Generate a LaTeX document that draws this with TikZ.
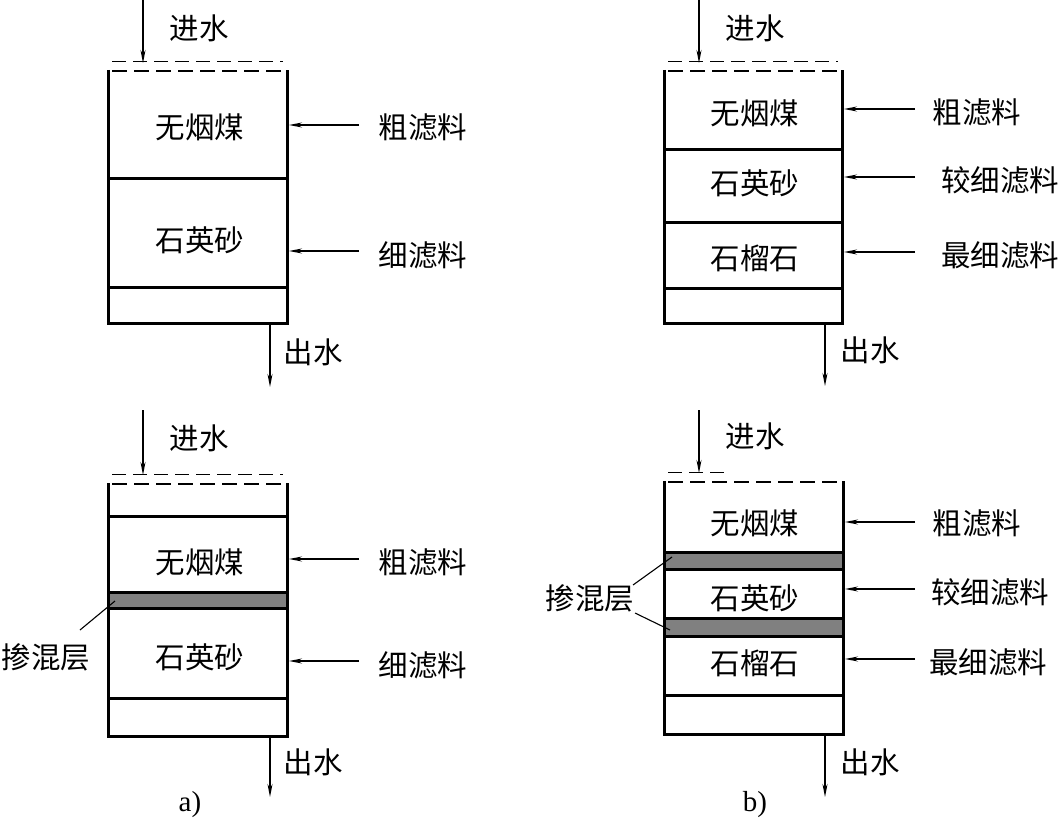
\documentclass[tikz,border=0pt]{standalone}
\usepackage{fontspec}
\setmainfont{Liberation Serif}
\newfontfamily\cjk{Noto Sans CJK SC}
\usetikzlibrary{arrows.meta}
\definecolor{bandgray}{RGB}{128,128,128}
\tikzset{
  wall/.style={line width=3pt},
  sep/.style={line width=3pt},
  arr/.style={line width=1.1pt,-{Stealth[length=13pt,width=5pt]}},
  lead/.style={line width=1.1pt},
  dthin/.style={line width=1pt,dash pattern=on 14pt off 7pt},
  dthick/.style={line width=1.8pt,dash pattern=on 15pt off 7pt},
  lbl/.style={font=\cjk\fontsize{29.5}{33}\selectfont,inner sep=0pt},
  figcap/.style={font=\fontsize{29}{33}\selectfont,inner sep=0pt},
  band/.style={fill=bandgray,draw=black,line width=3pt}
}
\begin{document}
\begin{tikzpicture}[x=1pt,y=-1pt]
\useasboundingbox (0,0) rectangle (1062,826);
\fill[white] (0,0) rectangle (1062,826);

% ===== Panel a top =====
\draw[dthin] (112,62) -- (283,62);
\draw[dthick] (112,71) -- (285,71);
\draw[wall] (108,70) -- (108,323) -- (287,323) -- (287,70);
\draw[sep] (108,179) -- (287,179);
\draw[sep] (108,287) -- (287,287);
\node[lbl] (aT1) at (200,127) {无烟煤};
\node[lbl] (aT2) at (200,240) {石英砂};
\node[lbl] (aL1) at (423,127) {粗滤料};
\node[lbl] (aL2) at (423,255) {细滤料};
\coordinate (aA1s) at (359,125); \coordinate (aA1t) at (289,125);
\coordinate (aA2s) at (359,251); \coordinate (aA2t) at (289,251);
\draw[arr] (aA1s) -- (aA1t);
\draw[arr] (aA2s) -- (aA2t);
\node[lbl] (aIn) at (199,28) {进水};
\coordinate (aIns) at (143,0); \coordinate (aInt) at (143,63);
\draw[arr] (aIns) -- (aInt);
\node[lbl] (aOut) at (313,352) {出水};
\coordinate (aOuts) at (270,324); \coordinate (aOutt) at (270,387);
\draw[arr] (aOuts) -- (aOutt);

% ===== Panel a bottom =====
\draw[dthin] (112,474) -- (283,474);
\draw[dthick] (112,484) -- (285,484);
\draw[wall] (108,483) -- (108,736) -- (287,736) -- (287,483);
\draw[sep] (108,516) -- (287,516);
\draw[band] (108,592) rectangle (287,608);
\draw[sep] (108,698) -- (287,698);
\node[lbl] (cT1) at (200,562) {无烟煤};
\node[lbl] (cT2) at (200,657) {石英砂};
\node[lbl] (cL1) at (423,562) {粗滤料};
\node[lbl] (cL2) at (423,665) {细滤料};
\coordinate (cA1s) at (359,559); \coordinate (cA1t) at (289,559);
\coordinate (cA2s) at (359,661); \coordinate (cA2t) at (289,661);
\draw[arr] (cA1s) -- (cA1t);
\draw[arr] (cA2s) -- (cA2t);
\node[lbl] (cIn) at (199,438) {进水};
\coordinate (cIns) at (143,410); \coordinate (cInt) at (143,475);
\draw[arr] (cIns) -- (cInt);
\node[lbl] (cOut) at (313,762) {出水};
\coordinate (cOuts) at (270,737); \coordinate (cOutt) at (270,797);
\draw[arr] (cOuts) -- (cOutt);
\node[lbl] (cMix) at (46,657) {掺混层};
\coordinate (cMs) at (80,630); \coordinate (cMt) at (115,601);
\draw[lead] (cMs) -- (cMt);
\node[figcap] (capA) at (190,805) {a)};

% ===== Panel b top =====
\draw[dthin] (668,62) -- (838,62);
\draw[dthick] (668,71) -- (840,71);
\draw[wall] (664,70) -- (664,323) -- (842,323) -- (842,70);
\draw[sep] (664,150) -- (842,150);
\draw[sep] (664,223) -- (842,223);
\draw[sep] (664,288) -- (842,288);
\node[lbl] (bT1) at (755,113) {无烟煤};
\node[lbl] (bT2) at (755,183) {石英砂};
\node[lbl] (bT3) at (755,258) {石榴石};
\node[lbl] (bL1) at (977,112) {粗滤料};
\node[lbl] (bL2) at (1000,180) {较细滤料};
\node[lbl] (bL3) at (1000,255) {最细滤料};
\coordinate (bA1s) at (915,109); \coordinate (bA1t) at (844,109);
\coordinate (bA2s) at (915,177); \coordinate (bA2t) at (844,177);
\coordinate (bA3s) at (915,252); \coordinate (bA3t) at (844,252);
\draw[arr] (bA1s) -- (bA1t);
\draw[arr] (bA2s) -- (bA2t);
\draw[arr] (bA3s) -- (bA3t);
\node[lbl] (bIn) at (755,28) {进水};
\coordinate (bIns) at (699,0); \coordinate (bInt) at (699,63);
\draw[arr] (bIns) -- (bInt);
\node[lbl] (bOut) at (870,350) {出水};
\coordinate (bOuts) at (825,324); \coordinate (bOutt) at (825,386);
\draw[arr] (bOuts) -- (bOutt);

% ===== Panel b bottom =====
\draw[dthin] (668,472) -- (730,472);
\draw[dthick] (668,482) -- (840,482);
\draw[wall] (664,481) -- (664,734) -- (843,734) -- (843,481);
\draw[band] (664,552) rectangle (843,569);
\draw[band] (664,618) rectangle (843,636);
\draw[sep] (664,695) -- (843,695);
\node[lbl] (dT1) at (755,523) {无烟煤};
\node[lbl] (dT2) at (755,598) {石英砂};
\node[lbl] (dT3) at (755,663) {石榴石};
\node[lbl] (dL1) at (977,523) {粗滤料};
\node[lbl] (dL2) at (990,592) {较细滤料};
\node[lbl] (dL3) at (988,662) {最细滤料};
\coordinate (dA1s) at (915,522); \coordinate (dA1t) at (845,522);
\coordinate (dA2s) at (915,589); \coordinate (dA2t) at (845,589);
\coordinate (dA3s) at (915,659); \coordinate (dA3t) at (845,659);
\draw[arr] (dA1s) -- (dA1t);
\draw[arr] (dA2s) -- (dA2t);
\draw[arr] (dA3s) -- (dA3t);
\node[lbl] (dIn) at (755,436) {进水};
\coordinate (dIns) at (699,410); \coordinate (dInt) at (699,473);
\draw[arr] (dIns) -- (dInt);
\node[lbl] (dOut) at (870,762) {出水};
\coordinate (dOuts) at (825,735); \coordinate (dOutt) at (825,797);
\draw[arr] (dOuts) -- (dOutt);
\node[lbl] (dMix) at (590,598) {掺混层};
\coordinate (dM1s) at (633,585); \coordinate (dM1t) at (672,557);
\coordinate (dM2s) at (635,613); \coordinate (dM2t) at (670,630);
\draw[lead] (dM1s) -- (dM1t);
\draw[lead] (dM2s) -- (dM2t);
\node[figcap] (capB) at (755,805) {b)};
\end{tikzpicture}
\end{document}
